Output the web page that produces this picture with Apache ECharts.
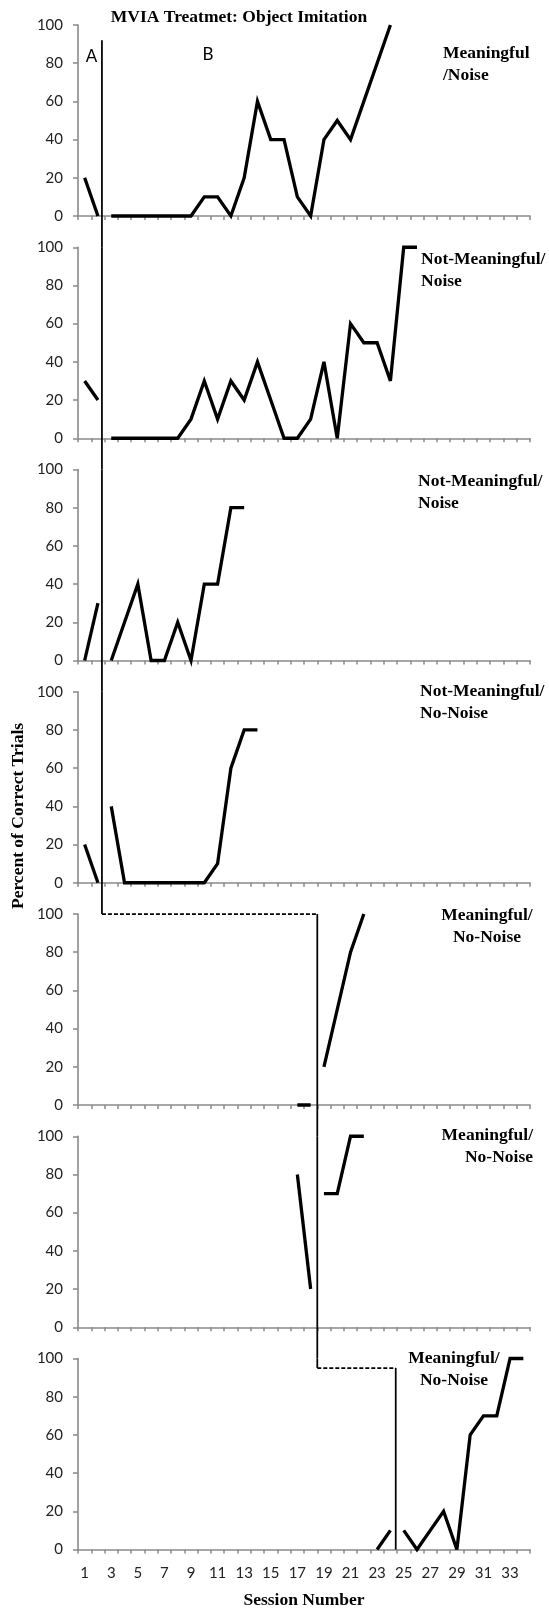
<!DOCTYPE html>
<html>
<head>
<meta charset="utf-8">
<script src="https://cdn.jsdelivr.net/npm/echarts@6/dist/echarts.min.js"></script>
<style>
  html, body { margin: 0; padding: 0; background: #fff; }
  #chart { width: 549px; height: 1610px; }
</style>
</head>
<body>
<div id="chart"></div>
<script>
// ---- data ----
const sessions = ['1','2','3','4','5','6','7','8','9','10','11','12','13','14','15','16','17',
  '18','19','20','21','22','23','24','25','26','27','28','29','30','31','32','33','34'];
const yTicks = [0, 20, 40, 60, 80, 100];

// [session, percent correct]
const p1Baseline = [[1,20],[2,0]];
const p1Treatment = [[3,0],[4,0],[5,0],[6,0],[7,0],[8,0],[9,0],[10,10],[11,10],[12,0],[13,20],[14,60],
  [15,40],[16,40],[17,10],[18,0],[19,40],[20,50],[21,40],[22,60],[23,80],[24,100]];
const p2Baseline = [[1,30],[2,20]];
const p2Treatment = [[3,0],[4,0],[5,0],[6,0],[7,0],[8,0],[9,10],[10,30],[11,10],[12,30],[13,20],[14,40],
  [15,20],[16,0],[17,0],[18,10],[19,40],[20,0],[21,60],[22,50],[23,50],[24,30],[25,100],[26,100]];
const p3Baseline = [[1,0],[2,30]];
const p3Treatment = [[3,0],[4,20],[5,40],[6,0],[7,0],[8,20],[9,0],[10,40],[11,40],[12,80],[13,80]];
const p4Baseline = [[1,20],[2,0]];
const p4Treatment = [[3,40],[4,0],[5,0],[6,0],[7,0],[8,0],[9,0],[10,0],[11,10],[12,60],[13,80],[14,80]];
const p5Baseline = [[17,0],[18,0]];
const p5Treatment = [[19,20],[20,50],[21,80],[22,100]];
const p6Baseline = [[17,80],[18,20]];
const p6Treatment = [[19,70],[20,70],[21,100],[22,100]];
const p7Baseline = [[23,0],[24,10]];
const p7Treatment = [[25,10],[26,0],[27,10],[28,20],[29,0],[30,60],[31,70],[32,70],[33,100],[34,100]];

const panelLabels = ['Meaningful\n/Noise', 'Not-Meaningful/\nNoise', 'Not-Meaningful/\nNoise',
  'Not-Meaningful/\nNo-Noise', 'Meaningful/\nNo-Noise', 'Meaningful/\nNo-Noise', 'Meaningful/\nNo-Noise'];
// phase-change lines, drawn between sessions
const phaseChanges = [2.3, 18.5, 24.4];

// ---- layout ----
const tops = [25, 247.25, 469.5, 691.75, 914, 1136.25, 1358.5];
const H = 191;
const GAP = -16.4; // gap between panels, in y units of a panel
const axisGray = '#8a8a8a';
const serifBold = 'bold 17.5px "Liberation Serif", "Times New Roman", serif';

const panels = [
  [p1Baseline, p1Treatment], [p2Baseline, p2Treatment], [p3Baseline, p3Treatment],
  [p4Baseline, p4Treatment], [p5Baseline, p5Treatment], [p6Baseline, p6Treatment],
  [p7Baseline, p7Treatment]
];

const grid = tops.map(t => ({ left: 78, right: 19, top: t, height: H }));
const xAxis = [];
const yAxis = [];
tops.forEach((t, i) => {
  xAxis.push({
    type: 'category', gridIndex: i, data: sessions, boundaryGap: true,
    axisLine: { show: true, onZero: false, lineStyle: { color: axisGray, width: 1.6 } },
    axisTick: { show: true, interval: 0, length: 4, lineStyle: { color: axisGray, width: 1.5 } },
    axisLabel: { show: i === 6, interval: 1, margin: 16, fontFamily: 'Lato', fontSize: 15, color: '#222' },
    splitLine: { show: false }
  });
  yAxis.push({
    type: 'value', gridIndex: i, min: yTicks[0], max: yTicks[yTicks.length - 1], interval: yTicks[1] - yTicks[0],
    axisLine: { show: true, lineStyle: { color: axisGray, width: 1.6 } },
    axisTick: { show: true, length: 5, lineStyle: { color: axisGray, width: 1.5 } },
    axisLabel: { margin: 15, fontFamily: 'Lato', fontSize: 15, color: '#222' },
    splitLine: { show: false }
  });
});
// hidden value x-axes for the phase-change lines (sessions between categories)
tops.forEach((t, i) => {
  xAxis.push({ type: 'value', gridIndex: i, min: 0.5, max: sessions.length + 0.5, show: false });
});

const series = [];
panels.forEach((pair, i) => {
  pair.forEach(arr => {
    series.push({
      type: 'line', xAxisIndex: i, yAxisIndex: i,
      data: arr.map(([s, v]) => [String(s), v]),
      symbol: 'none', clip: false, silent: true,
      lineStyle: { color: '#000', width: 3.3, join: 'miter', miterLimit: 4 }
    });
  });
});

function phaseLine(panel, pts, dashed) {
  series.push({
    type: 'line', xAxisIndex: 7 + panel, yAxisIndex: panel, data: pts,
    symbol: 'none', clip: false, silent: true, z: 1,
    lineStyle: { color: '#000', width: 1.75, type: dashed ? [4, 2] : 'solid' }
  });
}
const [pc1, pc2, pc3] = phaseChanges;
phaseLine(0, [[pc1, 92], [pc1, GAP]]);
phaseLine(1, [[pc1, 100], [pc1, GAP]]);
phaseLine(2, [[pc1, 100], [pc1, GAP]]);
phaseLine(3, [[pc1, 100], [pc1, GAP]]);
phaseLine(3, [[pc1, GAP], [pc2, GAP]], true);
phaseLine(4, [[pc2, 100], [pc2, GAP]]);
phaseLine(5, [[pc2, 100], [pc2, GAP]]);
phaseLine(6, [[pc2, 100], [pc2, 95]]);
phaseLine(6, [[pc2, 95], [pc3, 95]], true);
phaseLine(6, [[pc3, 95], [pc3, 0]]);

// ---- texts ----
const labelPos = [
  { x: 443, y: 42, align: 'left' },
  { x: 421, y: 248, align: 'left' },
  { x: 418, y: 470.5, align: 'left' },
  { x: 420, y: 680, align: 'left' },
  { x: 487, y: 904, align: 'center' },
  { x: 533, y: 1124, align: 'right' },
  { x: 454, y: 1347.5, align: 'center' }
];
const graphic = [
  { type: 'text', x: 239, y: 17, style: { text: 'MVIA Treatmet: Object Imitation', font: serifBold, fill: '#000', textAlign: 'center', textVerticalAlign: 'middle' } },
  { type: 'text', x: 91.5, y: 57, style: { text: 'A', font: '17px Lato', fill: '#000', textAlign: 'center', textVerticalAlign: 'middle' } },
  { type: 'text', x: 208, y: 55, style: { text: 'B', font: '17px Lato', fill: '#000', textAlign: 'center', textVerticalAlign: 'middle' } },
  { type: 'text', x: 18, y: 816, rotation: Math.PI / 2, style: { text: 'Percent of Correct Trials', font: serifBold, fill: '#000', textAlign: 'center', textVerticalAlign: 'middle' } },
  { type: 'text', x: 304, y: 1600, style: { text: 'Session Number', font: serifBold, fill: '#000', textAlign: 'center', textVerticalAlign: 'middle' } }
];
panelLabels.forEach((txt, i) => {
  const p = labelPos[i];
  graphic.push({ type: 'text', x: p.x, y: p.y, style: { text: txt, font: serifBold, fill: '#000', textAlign: p.align, textVerticalAlign: 'top', lineHeight: 22 } });
});

const chart = echarts.init(document.getElementById('chart'), null, { renderer: 'canvas' });
chart.setOption({
  animation: false,
  backgroundColor: '#fff',
  grid, xAxis, yAxis, series, graphic
});
</script>
</body>
</html>
